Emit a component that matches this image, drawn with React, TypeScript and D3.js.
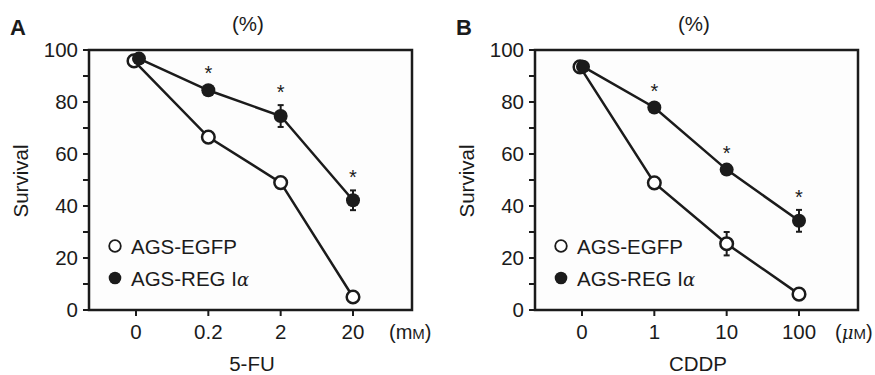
import * as d3 from "d3";

// panel A: 5-FU (mM)
const dosesA = ["0", "0.2", "2", "20"];
const egfpA = [95.8, 66.5, 49, 5];
const egfpErrA = [0, 0.8, 1, 0.8];
const regA = [96.7, 84.5, 74.6, 42.2];
const regErrA = [0, 1, 4.2, 3.8];
const sigA = [false, true, true, true];

// panel B: CDDP (uM)
const dosesB = ["0", "1", "10", "100"];
const egfpB = [93.5, 48.9, 25.5, 6.1];
const egfpErrB = [0, 1, 4.5, 0.8];
const regB = [93.6, 77.9, 54, 34.3];
const regErrB = [0, 1, 1, 4.2];
const sigB = [false, true, true, true];

const yTicks = d3.range(0, 101, 10);
const seriesNames = ["AGS-EGFP", "AGS-REG I"];

const FONT = "'Liberation Sans', Arial, Helvetica, sans-serif";
const INK = "#1b1b1b";

const plotW = 323;
const plotH = 260;

function Panel({ x0, letter, doses, egfp, egfpErr, reg, regErr, sig, drug, unit, shift }) {
  const xScale = d3.scalePoint().domain(doses).range([47, 264]);
  const yScale = d3.scaleLinear().domain([0, 100]).range([plotH, 0]);
  const line = d3
    .line()
    .x((d) => d[0])
    .y((d) => yScale(d[1]));

  const egfpPts = egfp.map((v, i) => [xScale(doses[i]) + (i === 0 ? shift[0] : 0), v]);
  const regPts = reg.map((v, i) => [xScale(doses[i]) + (i === 0 ? shift[1] : 0), v]);

  const errBar = (pts, errs, key) =>
    pts.map((p, i) =>
      errs[i] > 1.5 ? (
        <g key={key + i} stroke={INK} strokeWidth={2}>
          <line x1={p[0]} x2={p[0]} y1={yScale(p[1] + errs[i])} y2={yScale(p[1] - errs[i])} />
          <line x1={p[0] - 3} x2={p[0] + 3} y1={yScale(p[1] + errs[i])} y2={yScale(p[1] + errs[i])} />
          <line x1={p[0] - 3} x2={p[0] + 3} y1={yScale(p[1] - errs[i])} y2={yScale(p[1] - errs[i])} />
        </g>
      ) : null
    );

  return (
    <g transform={`translate(${x0},0)`} fontFamily={FONT} fill={INK}>
      <text x={-79} y={35} fontSize={22} fontWeight="bold">
        {letter}
      </text>
      <text x={159} y={31} fontSize={20.5} textAnchor="middle">
        (%)
      </text>
      <g transform="translate(0,50)">
        <rect x={0} y={0} width={plotW} height={plotH} fill="#fdfdfd" stroke={INK} strokeWidth={2.5} />
        {yTicks.map((t) => (
          <g key={t}>
            <line x1={-6} x2={0} y1={yScale(t)} y2={yScale(t)} stroke={INK} strokeWidth={2} />
            {t % 20 === 0 && (
              <text x={-11} y={yScale(t) + 7} fontSize={20.5} textAnchor="end">
                {t}
              </text>
            )}
          </g>
        ))}
        {doses.map((d) => (
          <g key={d}>
            <line x1={xScale(d)} x2={xScale(d)} y1={plotH} y2={plotH + 6} stroke={INK} strokeWidth={2} />
            <text x={xScale(d)} y={plotH + 29} fontSize={20.5} textAnchor="middle">
              {d}
            </text>
          </g>
        ))}
        <text x={plotW - 23} y={plotH + 29} fontSize={20}>
          {unit}
        </text>
        <text x={163} y={plotH + 61} fontSize={20.5} textAnchor="middle">
          {drug}
        </text>
        <text transform={`translate(-61,${yScale(50) + 1}) rotate(-90)`} fontSize={20.5} textAnchor="middle">
          Survival
        </text>

        <path d={line(egfpPts)} fill="none" stroke={INK} strokeWidth={2.5} />
        <path d={line(regPts)} fill="none" stroke={INK} strokeWidth={2.5} />
        {errBar(egfpPts, egfpErr, "e")}
        {errBar(regPts, regErr, "r")}
        {egfpPts.map((p, i) => (
          <circle key={"eo" + i} cx={p[0]} cy={yScale(p[1])} r={6.3} fill="#fff" stroke={INK} strokeWidth={2.5} />
        ))}
        {regPts.map((p, i) => (
          <circle key={"rf" + i} cx={p[0]} cy={yScale(p[1])} r={7} fill={INK} />
        ))}
        {regPts.map((p, i) =>
          sig[i] ? (
            <text key={"s" + i} x={p[0]} y={yScale(p[1] + Math.max(regErr[i], 1.5)) - 6} fontSize={20} textAnchor="middle">
              *
            </text>
          ) : null
        )}

        <circle cx={26} cy={196} r={5.8} fill="#fff" stroke={INK} strokeWidth={1.8} />
        <text x={42} y={203.5} fontSize={20.5}>
          {seriesNames[0]}
        </text>
        <circle cx={26} cy={228} r={6.3} fill={INK} />
        <text x={42} y={235.5} fontSize={20.5}>
          {seriesNames[1]}
          <tspan fontStyle="italic" fontFamily="'DejaVu Serif', serif" fontSize={18}>
            α
          </tspan>
        </text>
      </g>
    </g>
  );
}

export default function App() {
  return (
    <svg
      width={875}
      height={375}
      style={{ position: "absolute", left: 0, top: 0, background: "#fff" }}
    >
      <Panel
        x0={89}
        letter="A"
        doses={dosesA}
        egfp={egfpA}
        egfpErr={egfpErrA}
        reg={regA}
        regErr={regErrA}
        sig={sigA}
        drug="5-FU"
        unit={
          <>
            (m<tspan fontSize={15}>M</tspan>)
          </>
        }
        shift={[-2, 3]}
      />
      <Panel
        x0={535}
        letter="B"
        doses={dosesB}
        egfp={egfpB}
        egfpErr={egfpErrB}
        reg={regB}
        regErr={regErrB}
        sig={sigB}
        drug="CDDP"
        unit={
          <>
            (<tspan fontStyle="italic" fontFamily="'DejaVu Serif', serif" fontSize={18}>μ</tspan>
            <tspan fontSize={15}>M</tspan>)
          </>
        }
        shift={[-2, 1]}
      />
    </svg>
  );
}
